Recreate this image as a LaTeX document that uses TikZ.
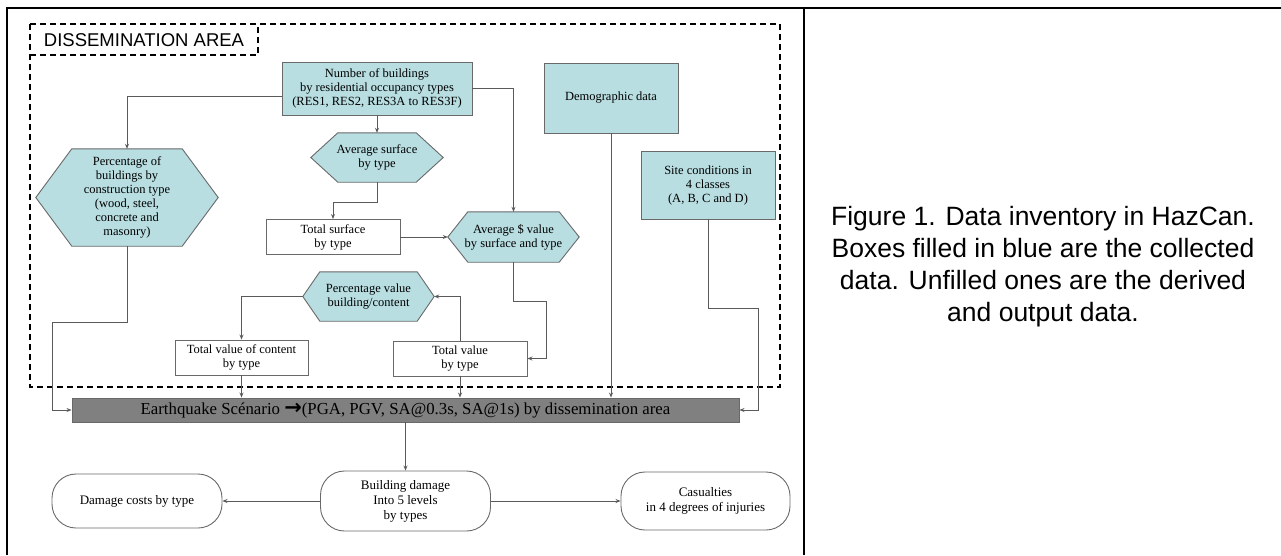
\documentclass[tikz,border=0pt]{standalone}
\usepackage{fontspec}
\setmainfont{Liberation Serif}
\newfontfamily\arialf{Liberation Sans}
\newfontfamily\arrowf{DejaVu Sans}
\usetikzlibrary{arrows.meta,calc,backgrounds}
\definecolor{boxblue}{RGB}{184,222,226}
\definecolor{boxline}{RGB}{105,105,105}
\definecolor{conn}{RGB}{90,90,90}
\definecolor{bargray}{RGB}{128,128,128}
\tikzset{
  txt/.style={font=\fontsize{12.5}{14}\selectfont, align=center, inner sep=0pt},
  bluebox/.style={txt, draw=boxline, fill=boxblue, line width=0.9pt},
  whitebox/.style={txt, draw=boxline, fill=white, line width=0.9pt},
  hexbox/.style={txt},
  hexline/.style={draw=boxline, fill=boxblue, line width=0.9pt},
  roundbox/.style={font=\fontsize{13}{15}\selectfont, align=center, inner sep=0pt, draw=boxline, line width=0.9pt, rounded corners=24pt},
  conn/.style={draw=conn, line width=1pt, -{Stealth[length=5pt,width=4pt]}},
  frame/.style={draw=black, line width=2.5pt},
  dashframe/.style={draw=black, line width=1.6pt, dash pattern=on 6pt off 4pt}
}
\newcommand\hexdraw[2]{%
  \begin{scope}[on background layer]
  \draw[hexline] (#1.west) -- ([xshift=#2]#1.north west) -- ([xshift=-#2]#1.north east)
    -- (#1.east) -- ([xshift=-#2]#1.south east) -- ([xshift=#2]#1.south west) -- cycle;
  \end{scope}}
\begin{document}
\begin{tikzpicture}[x=1pt,y=-1pt]
\useasboundingbox (0,0) rectangle (1281,555);
% outer frame
\draw[frame] (7,555) -- (7,8) -- (1281,8);
\draw[frame] (804,8) -- (804,555);
% caption
\node[font=\arialf\fontsize{26.5}{32}\selectfont, align=center] (cap) at (1043,267)
  {Figure 1. Data inventory in HazCan.\\Boxes filled in blue are the collected\\data. Unfilled ones are the derived\\and output data.};
% dissemination area
\draw[dashframe] (30,24) rectangle (780,387);
\draw[dashframe] (30,55) -- (258,55) -- (258,24);
\node[font=\arialf\fontsize{18.5}{20}\selectfont, inner sep=0pt] (da) at (144,40) {DISSEMINATION AREA};
% nodes
\node[bluebox, minimum width=190pt, minimum height=53pt] (num) at (377,88.5)
  {Number of buildings\\by residential occupancy types\\(RES1, RES2, RES3A to RES3F)};
\node[hexbox, minimum width=132pt, minimum height=49pt] (avgsurf) at (377,157.5) {Average surface\\by type};
\hexdraw{avgsurf}{27pt}
\node[hexbox, minimum width=182pt, minimum height=97pt] (pctb) at (127,197.5)
  {Percentage of\\buildings by\\construction type\\(wood, steel,\\concrete and\\masonry)};
\hexdraw{pctb}{36pt}
\node[hexbox, minimum width=131pt, minimum height=50pt] (avgval) at (513.5,237) {Average \$ value\\by surface and type};
\hexdraw{avgval}{20pt}
\node[whitebox, minimum width=134pt, minimum height=35pt] (totsurf) at (333,237) {Total surface\\by type};
\node[hexbox, minimum width=131pt, minimum height=49pt] (pctval) at (368.5,296.5) {Percentage value\\building/content};
\hexdraw{pctval}{17pt}
\node[whitebox, minimum width=133pt, minimum height=35pt] (totcont) at (241.5,357.5) {Total value of content\\by type};
\node[whitebox, minimum width=134pt, minimum height=35pt] (totval) at (460,358.5) {Total value\\by type};
\node[bluebox, minimum width=134pt, minimum height=70pt] (demo) at (611,98) {Demographic data};
\node[bluebox, minimum width=134pt, minimum height=68pt] (site) at (708,185) {Site conditions in\\4 classes\\(A, B, C and D)};
\node[txt, font=\fontsize{16.8}{18}\selectfont, draw=boxline, fill=bargray, line width=0.9pt, minimum width=667pt, minimum height=24pt] (eq) at (405.5,410)
  {Earthquake Scénario {\arrowf\bfseries\fontsize{21}{21}\selectfont\raisebox{-0.5pt}{→}}(PGA, PGV, SA@0.3s, SA@1s) by dissemination area};
\node[roundbox, minimum width=170pt, minimum height=60pt] (bdmg) at (405.5,501) {Building damage\\Into 5 levels\\by types};
\node[roundbox, minimum width=170pt, minimum height=54pt] (dcost) at (137,501) {Damage costs by type};
\node[roundbox, minimum width=169pt, minimum height=58pt] (casu) at (705.5,501) {Casualties\\in 4 degrees of injuries};
% connectors
\draw[conn] (num.south) -- (avgsurf.north);
\draw[conn] ([yshift=-7.5pt]num.west) -| (pctb.north);
\draw[conn] (num.east) -| (avgval.north);
\draw[conn] (avgsurf.south) -- ++(0,20) -| (totsurf.north);
\draw[conn] (totsurf.east) -- (avgval.west);
\draw[conn] (pctval.west) -| (totcont.north);
\draw[conn] (totval.north) |- (pctval.east);
\draw[conn] (avgval.south) -- ++(0,39) -| ($(totval.east)+(19,0)$) -- (totval.east);
\draw[conn] (demo.south) -- (demo.south |- eq.north);
\draw[conn] (site.south) -- ++(0,89) -| ($(eq.east)+(19,0)$) -- (eq.east);
\draw[conn] (pctb.south) -- ++(0,76) -| ($(eq.west)+(-19,0)$) -- (eq.west);
\draw[conn] (totcont.south) -- (totcont.south |- eq.north);
\draw[conn] (totval.south) -- (totval.south |- eq.north);
\draw[conn] (eq.south) -- (bdmg.north);
\draw[conn] (bdmg.west) -- (dcost.east);
\draw[conn] (bdmg.east) -- (casu.west);
\end{tikzpicture}
\end{document}
